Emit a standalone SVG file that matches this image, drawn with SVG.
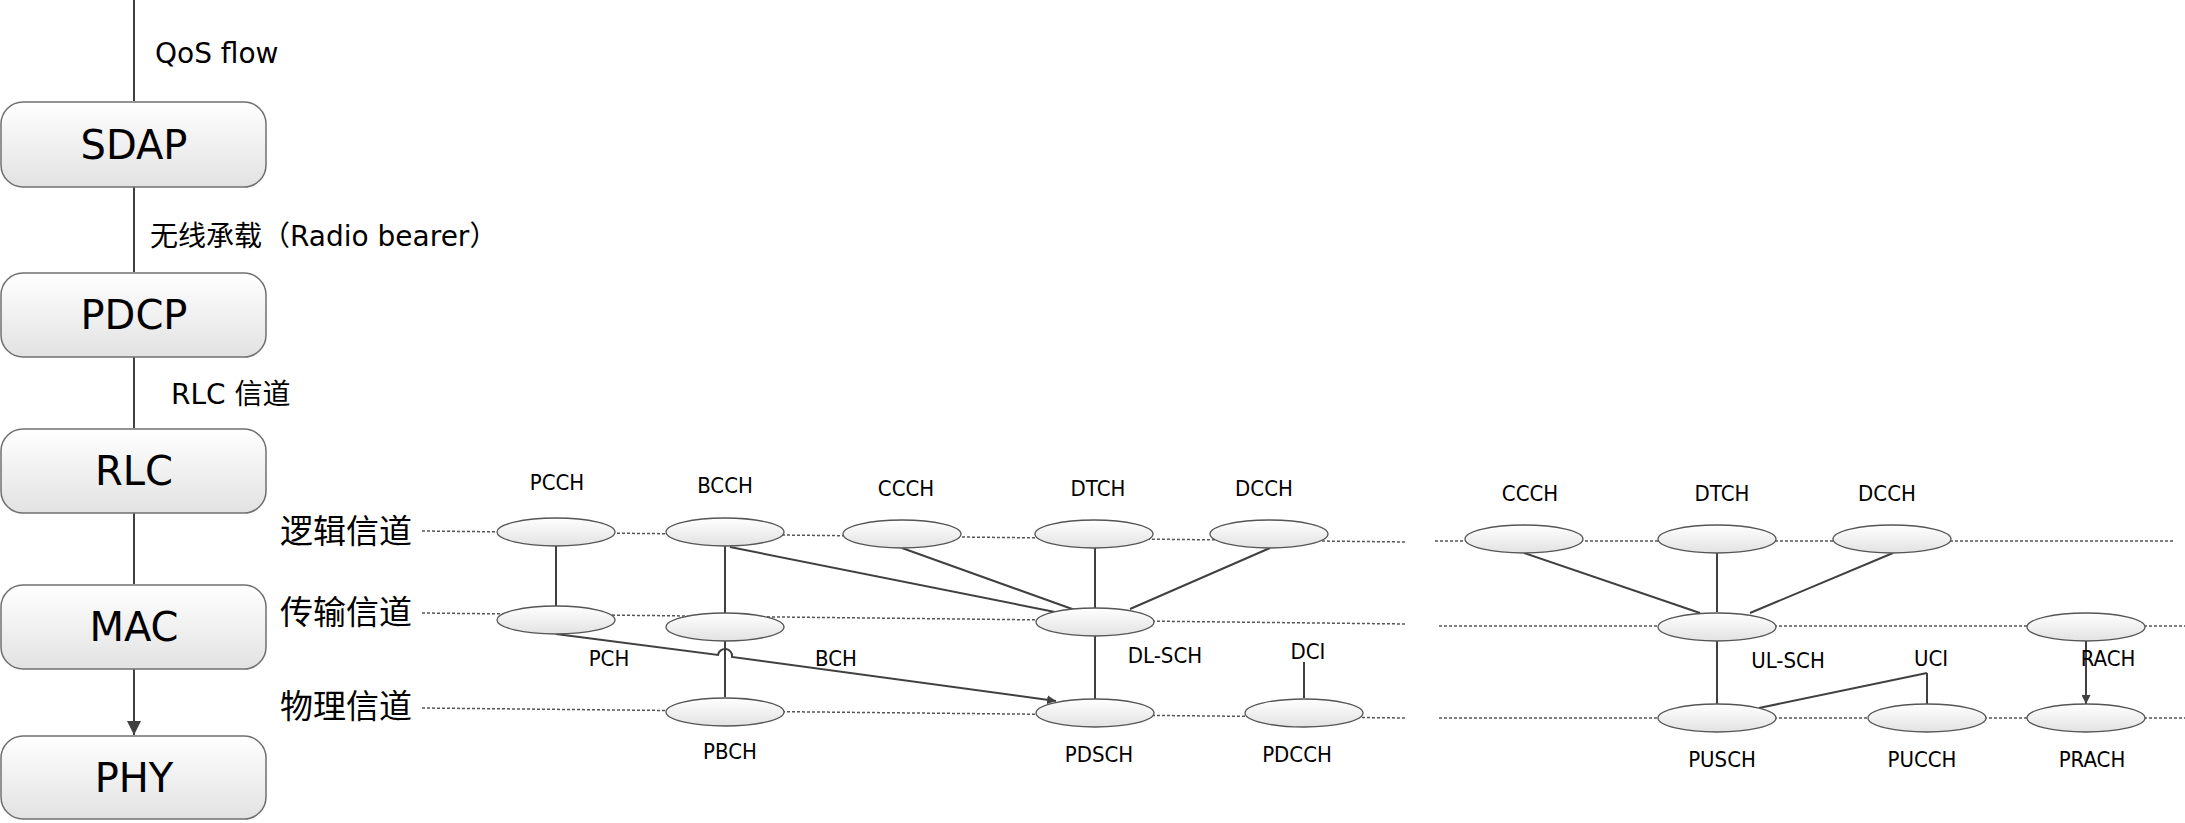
<svg xmlns="http://www.w3.org/2000/svg" width="2185" height="823" viewBox="0 0 2185 823">
<defs>
<linearGradient id="g" x1="0" y1="0" x2="0" y2="1"><stop offset="0" stop-color="#ffffff"/><stop offset="1" stop-color="#e2e2e2"/></linearGradient>
<marker id="a" viewBox="0 0 10 10" refX="10" refY="5" markerWidth="9" markerHeight="9" markerUnits="userSpaceOnUse" orient="auto"><path d="M0,0L10,5L0,10z" fill="#404040"/></marker>
<marker id="b" viewBox="0 0 10 10" refX="10" refY="5" markerWidth="14" markerHeight="14" markerUnits="userSpaceOnUse" orient="auto"><path d="M0,0L10,5L0,10z" fill="#404040"/></marker>
<style>
.box{fill:url(#g);stroke:#707070;stroke-width:1.5}
.bt{font-family:"DejaVu Sans",sans-serif;font-size:40px;text-anchor:middle;fill:#000}
.lt{font-family:"DejaVu Sans","Noto Sans CJK SC",sans-serif;font-size:28px;fill:#000}
.cn{font-family:"Noto Sans CJK SC",serif;font-size:33px;fill:#000}
.el{fill:url(#g);stroke:#555;stroke-width:1.3}
.t{font-family:"DejaVu Sans Condensed","DejaVu Sans",sans-serif;font-size:22px;text-anchor:middle;fill:#000}
.d{stroke:#555;stroke-width:1.5;stroke-dasharray:3,2;fill:none}
.c{stroke:#404040;stroke-width:2;fill:none;marker-end:url(#b)}
.s{stroke:#404040;stroke-width:2;fill:none;marker-end:url(#a)}
</style>
</defs>
<g id="guides">
<path class="d" d="M422,531L1407,542M1435,541L2174,541M422,613L1407,624M1439,626L2185,626M422,708L1407,718M1439,718L2185,718"/>
</g>
<g id="layer-labels">
<text class="cn" x="280" y="543">逻辑信道</text>
<text class="cn" x="280" y="624">传输信道</text>
<text class="cn" x="280" y="718">物理信道</text>
</g>
<g id="connectors">
<path class="c" d="M134,0V101M134,187V272M134,357V428M134,513V584M134,669V735"/>
<path class="s" d="M556,546V606M725,546V613M730,547L1055,612M902,548L1075,610M1095,548V608M1270,548L1130,609M725,641V697M1095,636V699M1304,662V698M1524,553L1700,613M1717,553V612M1893,553L1750,613M1717,641V704M1927,673V704M1927,673L1759,708M2086,641V704"/>
<path class="s" d="M556,634L718,655A7,7 0 0 1 732,657L1056,701"/>
</g>
<text class="lt" x="155" y="63">QoS flow</text>
<text class="lt" x="150" y="246">无线承载（Radio bearer）</text>
<text class="lt" x="171" y="404">RLC 信道</text>
<g id="SDAP"><rect class="box" x="1" y="102" width="265" height="85" rx="22"/><text class="bt" x="134" y="159">SDAP</text></g>
<g id="PDCP"><rect class="box" x="1" y="273" width="265" height="84" rx="22"/><text class="bt" x="134" y="329">PDCP</text></g>
<g id="RLC"><rect class="box" x="1" y="429" width="265" height="84" rx="22"/><text class="bt" x="134" y="485">RLC</text></g>
<g id="MAC"><rect class="box" x="1" y="585" width="265" height="84" rx="22"/><text class="bt" x="134" y="641">MAC</text></g>
<g id="PHY"><rect class="box" x="1" y="736" width="265" height="83" rx="22"/><text class="bt" x="134" y="792">PHY</text></g>
<g id="PCCH"><ellipse class="el" cx="556" cy="532" rx="59" ry="14"/><text class="t" x="557" y="490">PCCH</text></g>
<g id="BCCH"><ellipse class="el" cx="725" cy="532" rx="59" ry="14"/><text class="t" x="725" y="493">BCCH</text></g>
<g id="CCCH-DL"><ellipse class="el" cx="902" cy="534" rx="59" ry="14"/><text class="t" x="906" y="496">CCCH</text></g>
<g id="DTCH-DL"><ellipse class="el" cx="1094" cy="534" rx="59" ry="14"/><text class="t" x="1098" y="496">DTCH</text></g>
<g id="DCCH-DL"><ellipse class="el" cx="1269" cy="534" rx="59" ry="14"/><text class="t" x="1264" y="496">DCCH</text></g>
<g id="CCCH-UL"><ellipse class="el" cx="1524" cy="539" rx="59" ry="14"/><text class="t" x="1530" y="501">CCCH</text></g>
<g id="DTCH-UL"><ellipse class="el" cx="1717" cy="539" rx="59" ry="14"/><text class="t" x="1722" y="501">DTCH</text></g>
<g id="DCCH-UL"><ellipse class="el" cx="1892" cy="539" rx="59" ry="14"/><text class="t" x="1887" y="501">DCCH</text></g>
<g id="PCH"><ellipse class="el" cx="556" cy="620" rx="59" ry="14"/><text class="t" x="609" y="666">PCH</text></g>
<g id="BCH"><ellipse class="el" cx="725" cy="627" rx="59" ry="14"/><text class="t" x="836" y="666">BCH</text></g>
<g id="DL-SCH"><ellipse class="el" cx="1095" cy="622" rx="59" ry="14"/><text class="t" x="1165" y="663">DL-SCH</text></g>
<g id="DCI"><text class="t" x="1308" y="659">DCI</text></g>
<g id="UL-SCH"><ellipse class="el" cx="1717" cy="627" rx="59" ry="14"/><text class="t" x="1788" y="668">UL-SCH</text></g>
<g id="UCI"><text class="t" x="1931" y="666">UCI</text></g>
<g id="RACH"><ellipse class="el" cx="2086" cy="627" rx="59" ry="14"/><text class="t" x="2108" y="666">RACH</text></g>
<g id="PBCH"><ellipse class="el" cx="725" cy="712" rx="59" ry="14"/><text class="t" x="730" y="759">PBCH</text></g>
<g id="PDSCH"><ellipse class="el" cx="1095" cy="713" rx="59" ry="14"/><text class="t" x="1099" y="762">PDSCH</text></g>
<g id="PDCCH"><ellipse class="el" cx="1304" cy="713" rx="59" ry="14"/><text class="t" x="1297" y="762">PDCCH</text></g>
<g id="PUSCH"><ellipse class="el" cx="1717" cy="718" rx="59" ry="14"/><text class="t" x="1722" y="767">PUSCH</text></g>
<g id="PUCCH"><ellipse class="el" cx="1927" cy="718" rx="59" ry="14"/><text class="t" x="1922" y="767">PUCCH</text></g>
<g id="PRACH"><ellipse class="el" cx="2086" cy="718" rx="59" ry="14"/><text class="t" x="2092" y="767">PRACH</text></g>
</svg>
